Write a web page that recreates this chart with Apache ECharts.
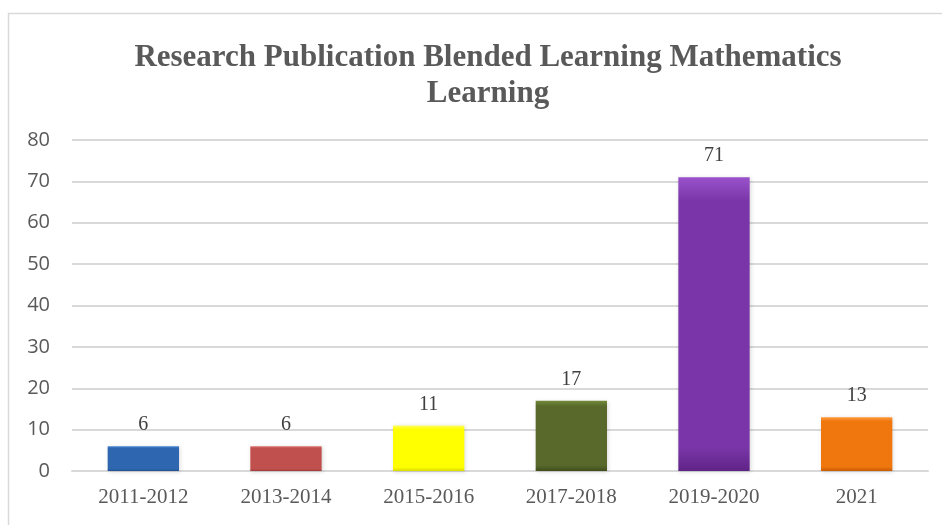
<!DOCTYPE html>
<html><head><meta charset="utf-8">
<script src="https://cdn.jsdelivr.net/npm/echarts@6/dist/echarts.min.js"></script>
<style>html,body{margin:0;padding:0;background:#fff}#c{width:942px;height:525px}</style>
</head><body><div id="c"></div>
<script>
const categories = ['2011-2012','2013-2014','2015-2016','2017-2018','2019-2020','2021'];
const values = [6, 6, 11, 17, 71, 13];
const colors = [
  ['#4a8ad8','#2e66b0','#1f4f8f'],
  ['#e07370','#c0504d','#9a3a38'],
  ['#ffff66','#ffff00','#d8d800'],
  ['#728a3c','#58692b','#3f4d1d'],
  ['#9a52cc','#7a36a8','#5f2487'],
  ['#ff9a3c','#f0760e','#c65c05']
];
const yTicks = [0,10,20,30,40,50,60,70,80];

const chart = echarts.init(document.getElementById('c'));
chart.setOption({
  animation: false,
  graphic: [{type:'rect', shape:{x:8.5,y:13.5,width:960,height:530}, style:{fill:'none',stroke:'#d9d9d9',lineWidth:1.5}, silent:true}],
  title: {
    text: 'Research Publication Blended Learning Mathematics\nLearning',
    left: 483, textAlign: 'center', top: 35,
    textStyle: {fontFamily:'Liberation Serif', fontWeight:'bold', fontSize:31, color:'#595959', lineHeight:36}
  },
  grid: {left:72, right:14, top:140, bottom:54, containLabel:false},
  xAxis: {
    type:'category', data: categories,
    axisLine:{lineStyle:{color:'#d9d9d9', width:2}}, axisTick:{show:false},
    axisLabel:{fontFamily:'Liberation Serif', fontSize:21, color:'#595959', margin:16}
  },
  yAxis: {
    type:'value', min:0, max:80, interval:10,
    axisLine:{show:false}, axisTick:{show:false},
    splitLine:{lineStyle:{color:'#d9d9d9', width:2}},
    axisLabel:{fontFamily:'Open Sans', fontSize:20, color:'#595959', margin:22}
  },
  series: [{
    type:'bar', barWidth:'50%',
    data: values.map((v,i)=>({value:v, itemStyle:{color:{type:'linear',x:0,y:0,x2:0,y2:1,colorStops:[
      {offset:0,color:colors[i][0]},{offset:0.08,color:colors[i][1]},{offset:0.92,color:colors[i][1]},{offset:1,color:colors[i][2]}]},
      shadowColor:'rgba(0,0,0,0.15)', shadowBlur:4, shadowOffsetX:1, shadowOffsetY:1}})),
    label:{show:true, position:'top', distance:11, fontFamily:'Liberation Serif', fontSize:20, color:'#404040'}
  }]
});
</script></body></html>
